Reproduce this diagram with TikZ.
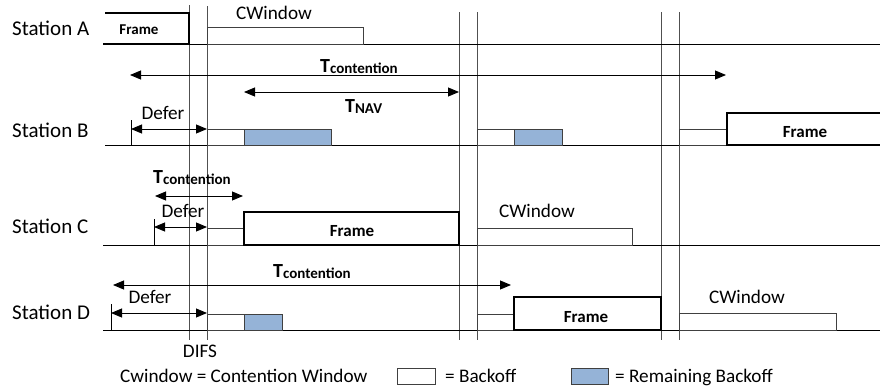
\documentclass[tikz,border=0pt]{standalone}
\usepackage{fontspec}
\setmainfont{Carlito}
\usetikzlibrary{arrows.meta}
\definecolor{bluefill}{HTML}{95B3D7}
\definecolor{edgegray}{HTML}{404040}
\definecolor{vgray}{HTML}{505050}
\begin{document}
\begin{tikzpicture}[x=1pt,y=-1pt,
  gridline/.style={vgray, line width=0.9pt},
  baseln/.style={black, line width=0.9pt},
  boff/.style={draw=edgegray, line width=0.8pt, fill=white},
  rboff/.style={draw=edgegray, line width=0.8pt, fill=bluefill},
  frm/.style={draw=black, line width=2.4pt},
  dimarrow/.style={{Triangle[length=11pt,width=9pt]}-{Triangle[length=11pt,width=9pt]}, line width=0.9pt},
  tick/.style={black, line width=0.9pt},
  lbl/.style={font=\fontsize{19.2}{21}\selectfont, inner sep=0pt, anchor=base},
  stn/.style={font=\fontsize{21}{23}\selectfont, inner sep=0pt, anchor=base west},
  ftxt/.style={font=\fontsize{17}{18}\selectfont\bfseries, inner sep=0pt, anchor=base},
  tlbl/.style={inner sep=0pt, anchor=base west}
]
\useasboundingbox (0,0) rectangle (880,388);

% vertical time markers
\draw[gridline] (189,5) -- (189,340);
\draw[gridline] (207,6) -- (207,340);
\draw[gridline] (459,12) -- (459,340);
\draw[gridline] (477,12) -- (477,340);
\draw[gridline] (661,12) -- (661,340);
\draw[gridline] (679,12) -- (679,340);

% baselines
\draw[baseln] (103,44) -- (880,44);
\draw[baseln] (105,145) -- (880,145);
\draw[baseln] (103,245) -- (880,245);
\draw[baseln] (103,330) -- (880,330);

% station labels
\node[stn] (sA) at (12,35) {Station A};
\node[stn] (sB) at (12,137) {Station B};
\node[stn] (sC) at (12,233) {Station C};
\node[stn] (sD) at (12,319) {Station D};

% ---- Station A
\draw[frm] (105,13) -- (189,13) -- (189,44) -- (103,44);
\node[ftxt, font=\fontsize{15}{16}\selectfont\bfseries] (fA) at (139,34) {Frame};
\draw[boff] (207,27) rectangle (363,44);
\node[lbl] (cwA) at (274,19) {CWindow};

% T contention (row 1) and T NAV
\coordinate (tcAl) at (130,75);
\coordinate (tcAr) at (726,75);
\draw[dimarrow] (tcAl) -- (tcAr);
\node[tlbl] (tcA) at (320,72) {\fontsize{20}{20}\selectfont\bfseries T\raisebox{-1.5pt}{\fontsize{15}{15}\selectfont contention}};
\coordinate (navl) at (244,92);
\coordinate (navr) at (459,92);
\draw[dimarrow] (navl) -- (navr);
\node[tlbl] (tnav) at (345,112) {\fontsize{20}{20}\selectfont\bfseries T\raisebox{-1.5pt}{\fontsize{15}{15}\selectfont NAV}};

% ---- Station B
\draw[tick] (131,120) -- (131,145);
\coordinate (dBl) at (131,129);
\coordinate (dBr) at (207,129);
\draw[dimarrow] (dBl) -- (dBr);
\node[lbl] (defB) at (163,119) {Defer};
\draw[boff] (207,129) rectangle (244,145);
\draw[rboff] (244,129) rectangle (331,145);
\draw[boff] (477,129) rectangle (514,145);
\draw[rboff] (514,129) rectangle (562,145);
\draw[boff] (679,129) rectangle (727,145);
\draw[frm] (881,113) -- (727,113) -- (727,145) -- (881,145);
\node[ftxt] (fB) at (805,137) {Frame};

% ---- Station C
\coordinate (tcCl) at (155,196);
\coordinate (tcCr) at (243,196);
\draw[dimarrow] (tcCl) -- (tcCr);
\node[tlbl] (tcC) at (153,183) {\fontsize{20}{20}\selectfont\bfseries T\raisebox{-1.5pt}{\fontsize{15}{15}\selectfont contention}};
\draw[tick] (154,219) -- (154,245);
\coordinate (dCl) at (154,227);
\coordinate (dCr) at (207,227);
\draw[dimarrow] (dCl) -- (dCr);
\node[lbl] (defC) at (183,217) {Defer};
\draw[boff] (207,228) rectangle (244,245);
\draw[frm] (244,212) rectangle (459,245);
\node[ftxt] (fC) at (352,236) {Frame};
\draw[boff] (477,228) rectangle (632,245);
\node[lbl] (cwC) at (537,217) {CWindow};

% ---- Station D
\coordinate (tcDl) at (113,285);
\coordinate (tcDr) at (511,285);
\draw[dimarrow] (tcDl) -- (tcDr);
\node[tlbl] (tcD) at (273,277) {\fontsize{20}{20}\selectfont\bfseries T\raisebox{-1.5pt}{\fontsize{15}{15}\selectfont contention}};
\draw[tick] (111,304) -- (111,330);
\coordinate (dDl) at (111,313);
\coordinate (dDr) at (207,313);
\draw[dimarrow] (dDl) -- (dDr);
\node[lbl] (defD) at (150,303) {Defer};
\draw[boff] (207,314) rectangle (244,330);
\draw[rboff] (244,314) rectangle (282,330);
\draw[boff] (477,314) rectangle (514,330);
\draw[frm] (514,297) rectangle (661,330);
\node[ftxt] (fD) at (586,322) {Frame};
\draw[boff] (679,313) rectangle (836,330);
\node[lbl] (cwD) at (747,303) {CWindow};

% DIFS
\node[lbl] (difs) at (200,357) {DIFS};

% legend
\node[lbl, anchor=base west] (leg1) at (120,382) {Cwindow = Contention Window};
\draw[boff] (397,368) rectangle (435,384);
\node[lbl, anchor=base west] (leg2) at (445,382) {= Backoff};
\draw[rboff] (571,368) rectangle (608,384);
\node[lbl, anchor=base west] (leg3) at (615,382) {= Remaining Backoff};
\end{tikzpicture}
\end{document}
